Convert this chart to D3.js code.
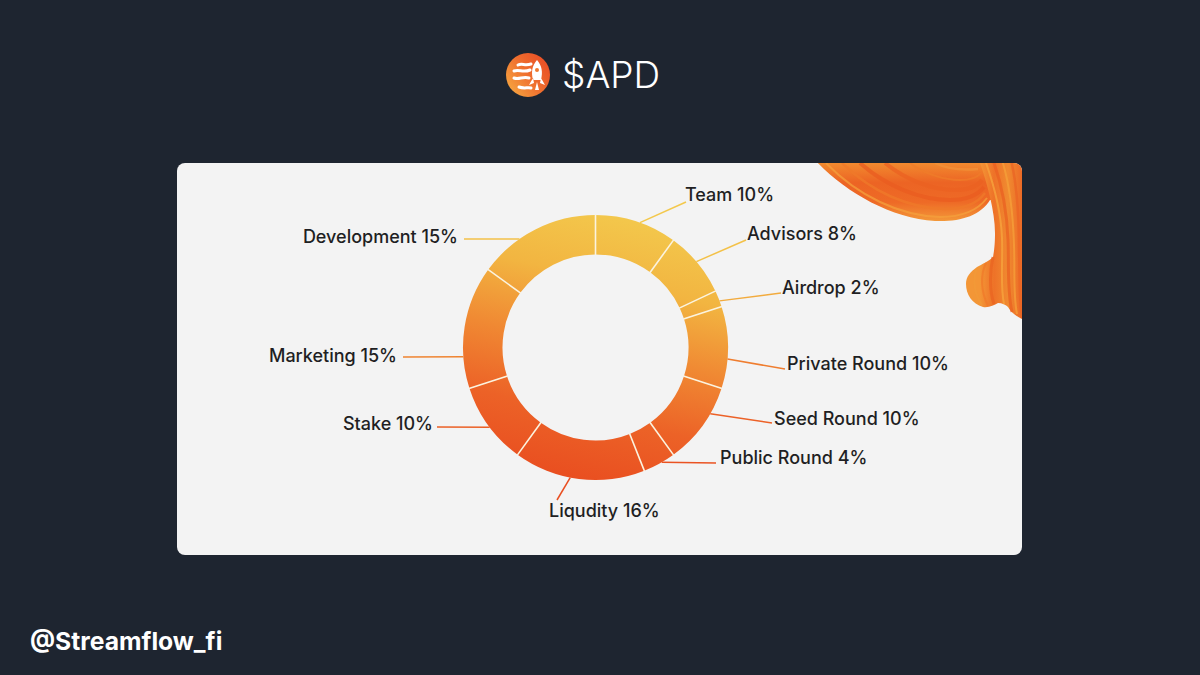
<!DOCTYPE html>
<html>
<head>
<meta charset="utf-8">
<script src="https://cdn.jsdelivr.net/npm/d3@7"></script>
<style>
  html, body { margin: 0; padding: 0; background: #1e2530; }
  svg { display: block; }
  text { font-family: Inter, "Noto Sans", sans-serif; }
</style>
</head>
<body>
<div id="chart"></div>
<script>
const categories = ['Team', 'Advisors', 'Airdrop', 'Private Round', 'Seed Round', 'Public Round', 'Liqudity', 'Stake', 'Marketing', 'Development'];
const shares = [10, 8, 2, 10, 10, 4, 16, 10, 15, 15];

// where the leaders leave the ring (degrees) and where they stop / the label sits
const leaderAngles = [19.6, 49.6, 69.4, 95, 120, 150, 191, 233, 266, 325];
const leaderEnds = [[686, 202], [746, 240], [781, 293], [785, 369], [772, 423], [716, 463], [557, 500], [437, 427], [403, 357], [464, 239]];
const labelPos = [[685, 201], [747, 240], [782, 294], [787, 370], [774, 425], [720, 464], [549, 517], [433, 430], [397, 362], [458, 243]];
const labelAnchor = ['start', 'start', 'start', 'start', 'start', 'start', 'start', 'end', 'end', 'end'];

const width = 1200;
const height = 675;
const cx = 595.5;
const cy = 347.5;
const outer = 132.5;
const inner = 93;
const ringStops = ['#f3c84c', '#f2b541', '#f08933', '#ec6227', '#e94e20'];

const svg = d3.select('#chart').append('svg')
  .attr('width', width)
  .attr('height', height)
  .attr('viewBox', `0 0 ${width} ${height}`);

const defs = svg.append('defs');

function gradient(id, x1, y1, x2, y2, stops) {
  const g = defs.append('linearGradient').attr('id', id)
    .attr('gradientUnits', 'userSpaceOnUse')
    .attr('x1', x1).attr('y1', y1).attr('x2', x2).attr('y2', y2);
  stops.forEach((c, i) => g.append('stop').attr('offset', i / (stops.length - 1)).attr('stop-color', c));
}

// ring gradient is in the ring group's own coordinates (centre = 0,0)
gradient('ring', 30, -132, -30, 132, ringStops);
gradient('logo', -18, 15, 20, -13, ['#f6a23f', '#ef6f2e', '#e94f26']);
gradient('wave', 880, 163, 880, 222, ['#f28a2e', '#ec6424', '#ee6a26', '#f39a3a']);
gradient('band', 980, 200, 1022, 200, ['#f39636', '#ee7228', '#f08a30', '#ec6a26']);

defs.append('clipPath').attr('id', 'cardClip').append('rect')
  .attr('x', 177).attr('y', 163).attr('width', 845).attr('height', 392).attr('rx', 8);

// background card
svg.append('rect')
  .attr('x', 177).attr('y', 163).attr('width', 845).attr('height', 392).attr('rx', 8)
  .attr('fill', '#f3f3f3');

// orange swoosh in the corner
const deco = svg.append('g').attr('clip-path', 'url(#cardClip)');
deco.append('path')
  .attr('d', 'M815,160 C845,192 890,218 935,221 C960,222 980,216 990,200 L1005,200 L1005,160 Z')
  .attr('fill', 'url(#wave)');

const waveStreaks = [
  ['M826,163 C858,196 900,216 940,217 C962,217 978,210 987,198', '#f4a03c', 2],
  ['M842,163 C872,192 908,208 945,209 C963,209 977,204 985,193', '#ef7a2a', 2.5],
  ['M860,163 C886,186 920,200 950,200 C966,200 977,196 984,187', '#e95c20', 4],
  ['M885,163 C906,180 932,190 955,190 C968,190 977,187 982,180', '#eb6222', 4],
  ['M910,163 C924,174 945,180 960,180 C970,180 977,178 981,173', '#ef7c2a', 2],
  ['M935,163 C945,168 958,171 978,169', '#f29238', 2.5]
];
deco.selectAll('path.wave')
  .data(waveStreaks)
  .join('path')
  .attr('class', 'wave')
  .attr('d', d => d[0])
  .attr('fill', 'none')
  .attr('stroke', d => d[1])
  .attr('stroke-width', d => d[2])
  .attr('opacity', 0.75);

deco.append('path')
  .attr('d', 'M979,160 C986,180 995,210 995,233 C995,245 994,252 993,257 C988,262 982,264 977,267 C970,272 966,277 966,284 C966,294 972,304 983,307 C989,308 994,305 998,303 C1002,303 1006,305 1008,307 C1011,312 1015,316 1024,320 L1024,160 Z')
  .attr('fill', 'url(#band)');

const bandStreaks = [
  ['M985,160 C994,185 1001,212 1002,238 C1003,262 1000,285 1004,304', '#f7a63e', 2],
  ['M993,160 C1002,185 1007,212 1008,240 C1009,265 1007,290 1012,312', '#ea6022', 3],
  ['M1002,160 C1010,185 1013,215 1014,245 C1015,270 1013,295 1017,314', '#f6a03a', 2],
  ['M1011,160 C1017,185 1019,215 1019,250 C1020,275 1019,300 1022,318', '#ea6424', 2.5],
  ['M993,257 C990,270 989,290 994,304', '#ea6422', 3],
  ['M986,263 C980,275 981,292 988,306', '#f07a2a', 2],
  ['M976,270 C973,282 975,295 982,305', '#f29a38', 2]
];
deco.selectAll('path.band')
  .data(bandStreaks)
  .join('path')
  .attr('class', 'band')
  .attr('d', d => d[0])
  .attr('fill', 'none')
  .attr('stroke', d => d[1])
  .attr('stroke-width', d => d[2])
  .attr('opacity', 0.75);

// donut
const pie = d3.pie().sort(null).value(d => d)(shares);
const arc = d3.arc().innerRadius(inner).outerRadius(outer);

const ring = svg.append('g').attr('transform', `translate(${cx},${cy})`);
ring.selectAll('path')
  .data(pie)
  .join('path')
  .attr('d', arc)
  .attr('fill', 'url(#ring)');

// slice separators
ring.selectAll('line')
  .data(pie)
  .join('line')
  .attr('x1', d => d3.pointRadial(d.startAngle, inner - 0.5)[0])
  .attr('y1', d => d3.pointRadial(d.startAngle, inner - 0.5)[1])
  .attr('x2', d => d3.pointRadial(d.startAngle, outer + 0.5)[0])
  .attr('y2', d => d3.pointRadial(d.startAngle, outer + 0.5)[1])
  .attr('stroke', '#fbf3df')
  .attr('stroke-width', 1.6);

// leaders
const rad = d3.scaleLinear().domain([0, 360]).range([0, 2 * Math.PI]);
const leaderColor = d3.scaleLinear().domain([215, 480]).range([0, 1]);
svg.append('g').selectAll('line')
  .data(categories)
  .join('line')
  .attr('x1', (d, i) => cx + d3.pointRadial(rad(leaderAngles[i]), outer)[0])
  .attr('y1', (d, i) => cy + d3.pointRadial(rad(leaderAngles[i]), outer)[1])
  .attr('x2', (d, i) => leaderEnds[i][0])
  .attr('y2', (d, i) => leaderEnds[i][1])
  .attr('stroke', (d, i) => d3.interpolateRgbBasis(ringStops)(leaderColor(leaderEnds[i][1])))
  .attr('stroke-width', 1.5);

// labels
svg.append('g').selectAll('text')
  .data(categories)
  .join('text')
  .attr('x', (d, i) => labelPos[i][0])
  .attr('y', (d, i) => labelPos[i][1])
  .attr('text-anchor', (d, i) => labelAnchor[i])
  .attr('font-size', 18)
  .attr('font-weight', 500)
  .attr('fill', '#1f1f23')
  .text((d, i) => `${d} ${shares[i]}%`);

// title with logo
const logo = svg.append('g').attr('transform', 'translate(528,75)');
logo.append('circle').attr('r', 22).attr('fill', 'url(#logo)');
logo.append('path')
  .attr('d', 'M-10,-10 C-6,-12 -3,-9 3,-11 M-14,-4 C-9,-6 -5,-2 2,-5 M-14,3 C-9,5 -5,1 1,3 M-9,12 C-4,14 0,12 3,13')
  .attr('stroke', '#fff').attr('stroke-width', 3).attr('stroke-linecap', 'round').attr('fill', 'none');
logo.append('path')
  .attr('d', 'M9,-15 C14,-9 15,-3 13,5 L5,5 C3,-3 4,-9 9,-15 Z M5,3 L1,10 L6,8 Z M13,3 L17,10 L12,8 Z M9,7 L11,15 L7,15 Z')
  .attr('fill', '#fff');
logo.append('circle').attr('cx', 9).attr('cy', -5).attr('r', 2).attr('fill', '#ef7a30');

svg.append('text')
  .attr('x', 562).attr('y', 88)
  .attr('font-size', 37).attr('font-weight', 300)
  .attr('fill', '#ffffff')
  .text('$APD');

svg.append('text')
  .attr('x', 30).attr('y', 650)
  .attr('font-size', 24.7).attr('font-weight', 700)
  .attr('fill', '#ffffff')
  .text('@Streamflow_fi');
</script>
</body>
</html>
